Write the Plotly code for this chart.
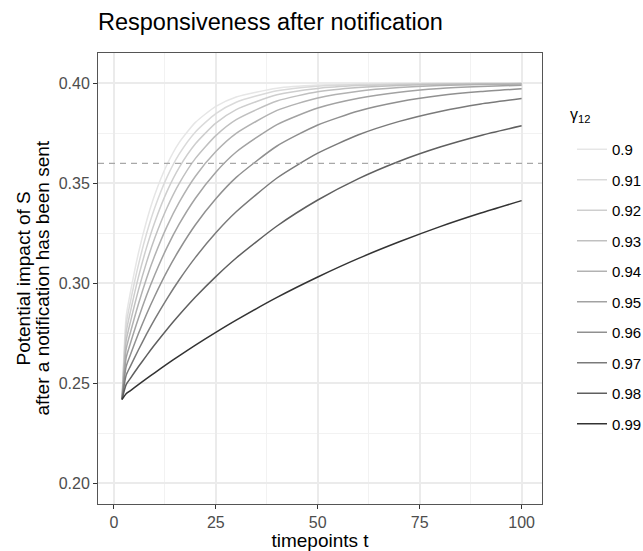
import plotly.graph_objects as go

t = [2, 3, 4, 6, 8, 10, 13, 16, 20, 25, 30, 40, 50, 60, 70, 80, 90, 100]
gammas = ["0.9", "0.91", "0.92", "0.93", "0.94", "0.95", "0.96", "0.97", "0.98", "0.99"]

y_090 = [0.242, 0.2834, 0.2950, 0.3150, 0.3311, 0.3442, 0.3593, 0.3704, 0.3805, 0.3885, 0.3932, 0.3976, 0.3992, 0.3997, 0.3999, 0.4000, 0.4000, 0.4000]
y_091 = [0.242, 0.2794, 0.2903, 0.3091, 0.3248, 0.3377, 0.3530, 0.3646, 0.3757, 0.3849, 0.3906, 0.3963, 0.3986, 0.3994, 0.3998, 0.3999, 0.4000, 0.4000]
y_092 = [0.242, 0.2754, 0.2854, 0.3030, 0.3179, 0.3305, 0.3459, 0.3579, 0.3698, 0.3801, 0.3869, 0.3943, 0.3975, 0.3989, 0.3995, 0.3998, 0.3999, 0.4000]
y_093 = [0.242, 0.2713, 0.2803, 0.2965, 0.3105, 0.3226, 0.3377, 0.3499, 0.3625, 0.3739, 0.3819, 0.3912, 0.3958, 0.3979, 0.3990, 0.3995, 0.3998, 0.3999]
y_094 = [0.242, 0.2671, 0.2751, 0.2896, 0.3025, 0.3138, 0.3284, 0.3405, 0.3536, 0.3659, 0.3750, 0.3865, 0.3927, 0.3961, 0.3979, 0.3989, 0.3994, 0.3997]
y_095 = [0.242, 0.2628, 0.2697, 0.2824, 0.2939, 0.3042, 0.3179, 0.3296, 0.3426, 0.3556, 0.3657, 0.3794, 0.3877, 0.3926, 0.3956, 0.3974, 0.3984, 0.3991]
y_096 = [0.242, 0.2584, 0.2641, 0.2748, 0.2846, 0.2936, 0.3059, 0.3167, 0.3293, 0.3423, 0.3530, 0.3687, 0.3792, 0.3862, 0.3908, 0.3939, 0.3959, 0.3973]
y_097 = [0.242, 0.2540, 0.2584, 0.2667, 0.2746, 0.2820, 0.2923, 0.3017, 0.3130, 0.3253, 0.3358, 0.3527, 0.3651, 0.3743, 0.3810, 0.3860, 0.3897, 0.3924]
y_098 = [0.242, 0.2494, 0.2524, 0.2583, 0.2639, 0.2693, 0.2770, 0.2842, 0.2932, 0.3034, 0.3127, 0.3287, 0.3417, 0.3524, 0.3611, 0.3682, 0.3740, 0.3788]
y_099 = [0.242, 0.2448, 0.2463, 0.2494, 0.2524, 0.2553, 0.2596, 0.2638, 0.2691, 0.2755, 0.2816, 0.2930, 0.3032, 0.3125, 0.3208, 0.3284, 0.3352, 0.3414]
series = [y_090, y_091, y_092, y_093, y_094, y_095, y_096, y_097, y_098, y_099]

colors = ["#E6E6E6", "#DADADA", "#CECECE", "#C0C0C0", "#B2B2B2",
          "#A2A2A2", "#909090", "#7A7A7A", "#5F5F5F", "#333333"]

threshold = 0.36
x_ticks = [0, 25, 50, 75, 100]
y_ticks = [0.20, 0.25, 0.30, 0.35, 0.40]
y_title_lines = ["Potential impact of S", "after a notification has been sent"]

fig = go.Figure()
for g, ys, c in zip(gammas, series, colors):
    fig.add_trace(go.Scatter(x=t, y=ys, mode="lines", name=g, legendgroup=g,
                             line=dict(color=c, width=1.5, shape="spline", smoothing=0.6)))

fig.add_hline(y=threshold, line=dict(color="#A8A8A8", width=1.3, dash="6px,5px"))

FONT = "Liberation Sans, Arial, sans-serif"
PL, PW, PT, PH = 98, 444, 53, 451

fig.add_annotation(text="γ<sub>12</sub>", xref="paper", yref="paper",
                   x=(568 - PL) / PW, xanchor="left", y=1 - (116 - PT) / PH, yanchor="middle",
                   showarrow=False, font=dict(size=16, color="#000000", family=FONT))

for xc, line in zip([23, 42], y_title_lines):
    fig.add_annotation(text=line, xref="paper", yref="paper",
                       x=(xc - PL) / PW, xanchor="center", y=0.5, yanchor="middle",
                       textangle=-90, showarrow=False,
                       font=dict(size=19, color="#000000", family=FONT))

fig.update_layout(
    width=643, height=551,
    margin=dict(l=98, r=101, t=53, b=47, autoexpand=False),
    paper_bgcolor="white", plot_bgcolor="white",
    font=dict(family=FONT, color="#000000"),
    title=dict(text="Responsiveness after notification", x=98/643, xanchor="left",
               xref="container", y=1 - 22/551, yanchor="middle", yref="container",
               font=dict(size=23.5, color="#000000", family=FONT)),
    legend=dict(x=(572 - PL) / PW, xanchor="left", y=1 - (133 - PT) / PH, yanchor="top",
                font=dict(size=15, color="#000000"),
                tracegroupgap=8, traceorder="grouped", itemwidth=30,
                bgcolor="rgba(0,0,0,0)"),
    showlegend=True,
)
fig.update_xaxes(range=[-3.9, 105.0], tickvals=x_ticks, ticktext=[str(v) for v in x_ticks],
                 automargin=False,
                 showgrid=True, gridcolor="#EBEBEB", gridwidth=1.5,
                 minor=dict(dtick=12.5, tick0=0, showgrid=True, gridcolor="#F2F2F2", gridwidth=0.8),
                 zeroline=False, showline=True, mirror=True, linecolor="#555555", linewidth=1,
                 ticks="outside", ticklen=4, tickcolor="#333333", tickwidth=1,
                 tickfont=dict(size=16, color="#4D4D4D"),
                 title=dict(text="timepoints t", font=dict(size=19, color="#000000"), standoff=4))
fig.update_yaxes(range=[0.1897, 0.4152], tickvals=y_ticks, ticktext=[f"{v:.2f}" for v in y_ticks],
                 automargin=False,
                 showgrid=True, gridcolor="#EBEBEB", gridwidth=1.5,
                 minor=dict(dtick=0.025, tick0=0.2, showgrid=True, gridcolor="#F2F2F2", gridwidth=0.8),
                 zeroline=False, showline=True, mirror=True, linecolor="#555555", linewidth=1,
                 ticks="outside", ticklen=4, tickcolor="#333333", tickwidth=1,
                 tickfont=dict(size=16, color="#4D4D4D"))

fig.write_html("out.html")
